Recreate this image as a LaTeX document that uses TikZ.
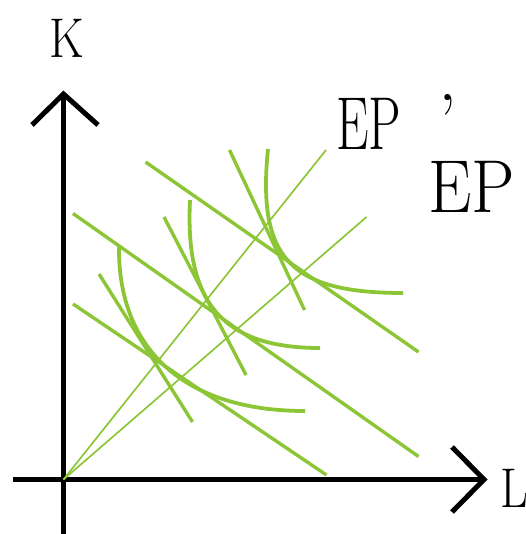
\documentclass[tikz,border=0pt]{standalone}
\usepackage{fontspec}
\usepackage{graphicx}
\definecolor{lgreen}{RGB}{140,198,55}
\begin{document}
\begin{tikzpicture}[x=1pt,y=-1pt,
  axis/.style={line width=5pt, black, line join=miter},
  isoline/.style={line width=3.4pt, lgreen},
  isocurve/.style={line width=3.8pt, lgreen},
  ray/.style={line width=1.7pt, lgreen},
  lab/.style={inner sep=0pt, anchor=base west}]
\useasboundingbox (0,0) rectangle (525,534);
% axes
\coordinate (O) at (63.5,479.5);
\coordinate (ybot) at (63.5,534);
\coordinate (ytop) at (63.5,94);
\coordinate (xleft) at (13,479.5);
\coordinate (xright) at (484,479.5);
\coordinate (ya1) at (32,125);
\coordinate (ya2) at (98,125);
\coordinate (xa1) at (452,447);
\coordinate (xa2) at (452,512);
\draw[axis] (ybot) -- (ytop);
\draw[axis] (xleft) -- (xright);
\draw[axis] (ya1) -- (ytop) -- (ya2);
\draw[axis] (xa1) -- (xright) -- (xa2);
% labels
\node[lab] (K) at (49,58) {\fontsize{56}{56}\selectfont\scalebox{0.86}[1]{K}};
\node[lab] (L) at (500,507) {\fontsize{56}{56}\selectfont\scalebox{0.86}[1]{L}};
\node[lab] (EPp) at (336,150) {\fontsize{75}{75}\selectfont\scalebox{0.69}[1]{EP}\hspace{37pt}\raisebox{3pt}{’}};
\node[lab] (EP) at (428,213) {\fontsize{75}{75}\selectfont\scalebox{0.92}[1]{EP}};
% rays
\coordinate (r1) at (326,150);
\coordinate (r2) at (366.5,217);
\draw[ray] (O) -- (r1);
\draw[ray] (O) -- (r2);
% isocost lines (shallow)
\coordinate (a1) at (145.5,162); \coordinate (a2) at (418.5,352);
\coordinate (b1) at (73,213.5); \coordinate (b2) at (418.5,456.5);
\coordinate (c1) at (73,304); \coordinate (c2) at (326.5,475);
\draw[isoline] (a1) -- (a2);
\draw[isoline] (b1) -- (b2);
\draw[isoline] (c1) -- (c2);
% steep lines
\coordinate (d1) at (229.5,150); \coordinate (d2) at (304.5,310);
\coordinate (e1) at (164,217); \coordinate (e2) at (246,375);
\coordinate (f1) at (99,274); \coordinate (f2) at (192.5,422);
\draw[isoline] (d1) -- (d2);
\draw[isoline] (e1) -- (e2);
\draw[isoline] (f1) -- (f2);
% isoquants
\coordinate (q1s) at (268,149); \coordinate (q1e) at (403,293);
\coordinate (q2s) at (190,200); \coordinate (q2e) at (320,348);
\coordinate (q3s) at (119,247); \coordinate (q3e) at (305,411);
\draw[isocurve] (q1s) .. controls (257,258) and (290,293) .. (q1e);
\draw[isocurve] (q2s) .. controls (185,300) and (220,348) .. (q2e);
\draw[isocurve] (q3s) .. controls (118,350) and (185,411) .. (q3e);
\end{tikzpicture}
\end{document}
